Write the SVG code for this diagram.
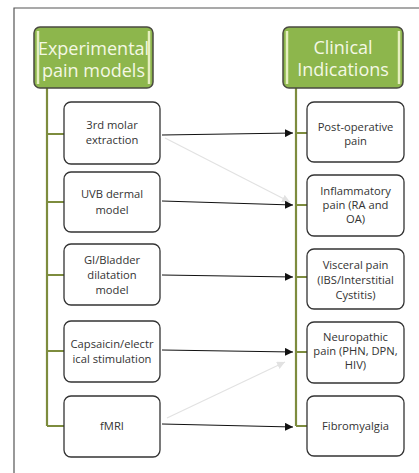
<svg xmlns="http://www.w3.org/2000/svg" width="419" height="473" viewBox="0 0 419 473">
<style>
.hdr{fill:#8db64c;stroke:#4a4a40;stroke-width:1.5}
.stripe{stroke:#e6efbf;stroke-width:2.5}
.ht{font-family:"Open Sans","Liberation Sans",sans-serif;font-size:18px;fill:#f4f8e4;text-anchor:middle}
.box{fill:#fff;stroke:#333;stroke-width:1.3}
.bt{font-family:"Open Sans","Liberation Sans",sans-serif;font-size:11.2px;fill:#333;text-anchor:middle}
.tree{stroke:#7d8c3e;stroke-width:2.2;fill:none}
.arr{stroke:#111;stroke-width:1;fill:none;marker-end:url(#ah)}
.faint{stroke:#e2e2e2;stroke-width:1.2;fill:none;marker-end:url(#fh)}
</style>
<defs>
<marker id="ah" viewBox="0 0 10 10" refX="10" refY="5" markerWidth="8" markerHeight="8" markerUnits="userSpaceOnUse" orient="auto"><path d="M0,0 L10,5 L0,10 z" fill="#111"/></marker>
<marker id="fh" viewBox="0 0 10 10" refX="10" refY="5" markerWidth="8" markerHeight="8" markerUnits="userSpaceOnUse" orient="auto"><path d="M0,0 L10,5 L0,10 z" fill="#e2e2e2"/></marker>
</defs>
<rect width="419" height="473" fill="#fff"/>
<path d="M14,473 V8 H419" fill="none" stroke="#555" stroke-width="1.2"/>
<g id="connectors">
<path class="tree" d="M47,88 V426 M47,134 H64 M47,202 H64 M47,275 H64 M47,351 H64 M47,426 H64"/>
<path class="tree" d="M296,88 V426 M296,133 H307 M296,205 H307 M296,277 H307 M296,352 H307 M296,426 H307"/>
<line class="faint" x1="165" y1="138" x2="290" y2="202"/>
<line class="faint" x1="167" y1="418" x2="285" y2="362"/>
<line class="arr" x1="162" y1="135" x2="293" y2="133"/>
<line class="arr" x1="162" y1="201" x2="293" y2="205"/>
<line class="arr" x1="162" y1="275" x2="293" y2="277"/>
<line class="arr" x1="162" y1="350" x2="293" y2="352"/>
<line class="arr" x1="162" y1="424" x2="293" y2="427"/>
</g>
<g id="hdr-left">
<rect class="hdr" x="34" y="27" width="119" height="61" rx="6"/>
<line class="stripe" x1="38" y1="31" x2="38" y2="84"/>
<line class="stripe" x1="149" y1="31" x2="149" y2="84"/>
<text class="ht" x="93.5" y="55">Experimental</text>
<text class="ht" x="93.5" y="77">pain models</text>
</g>
<g id="hdr-right">
<rect class="hdr" x="283" y="27" width="120" height="61" rx="6"/>
<line class="stripe" x1="287" y1="31" x2="287" y2="84"/>
<line class="stripe" x1="399" y1="31" x2="399" y2="84"/>
<text class="ht" x="343" y="54">Clinical</text>
<text class="ht" x="343" y="76">Indications</text>
</g>
<g id="l1"><rect class="box" x="64" y="102" width="96" height="62" rx="7"/><text class="bt" x="112" y="129">3rd molar</text><text class="bt" x="112" y="144">extraction</text></g>
<g id="l2"><rect class="box" x="64" y="172" width="96" height="60" rx="7"/><text class="bt" x="112" y="198">UVB dermal</text><text class="bt" x="112" y="214">model</text></g>
<g id="l3"><rect class="box" x="64" y="244" width="96" height="61" rx="7"/><text class="bt" x="112" y="264">GI/Bladder</text><text class="bt" x="112" y="279">dilatation</text><text class="bt" x="112" y="294">model</text></g>
<g id="l4"><rect class="box" x="64" y="321" width="96" height="61" rx="7"/><text class="bt" x="112" y="348">Capsaicin/electr</text><text class="bt" x="112" y="363">ical stimulation</text></g>
<g id="l5"><rect class="box" x="64" y="396" width="96" height="61" rx="7"/><text class="bt" x="112" y="430">fMRI</text></g>
<g id="r1"><rect class="box" x="307" y="102" width="97" height="60" rx="7"/><text class="bt" x="355.5" y="131">Post-operative</text><text class="bt" x="355.5" y="145">pain</text></g>
<g id="r2"><rect class="box" x="307" y="175" width="97" height="61" rx="7"/><text class="bt" x="355.5" y="195">Inflammatory</text><text class="bt" x="355.5" y="209">pain (RA and</text><text class="bt" x="355.5" y="223">OA)</text></g>
<g id="r3"><rect class="box" x="307" y="249" width="97" height="60" rx="7"/><text class="bt" x="355.5" y="269">Visceral pain</text><text class="bt" x="355.5" y="284">(IBS/Interstitial</text><text class="bt" x="355.5" y="299">Cystitis)</text></g>
<g id="r4"><rect class="box" x="307" y="322" width="97" height="61" rx="7"/><text class="bt" x="355.5" y="341">Neuropathic</text><text class="bt" x="355.5" y="355">pain (PHN, DPN,</text><text class="bt" x="355.5" y="369">HIV)</text></g>
<g id="r5"><rect class="box" x="307" y="396" width="97" height="60" rx="7"/><text class="bt" x="355.5" y="430">Fibromyalgia</text></g>
</svg>
